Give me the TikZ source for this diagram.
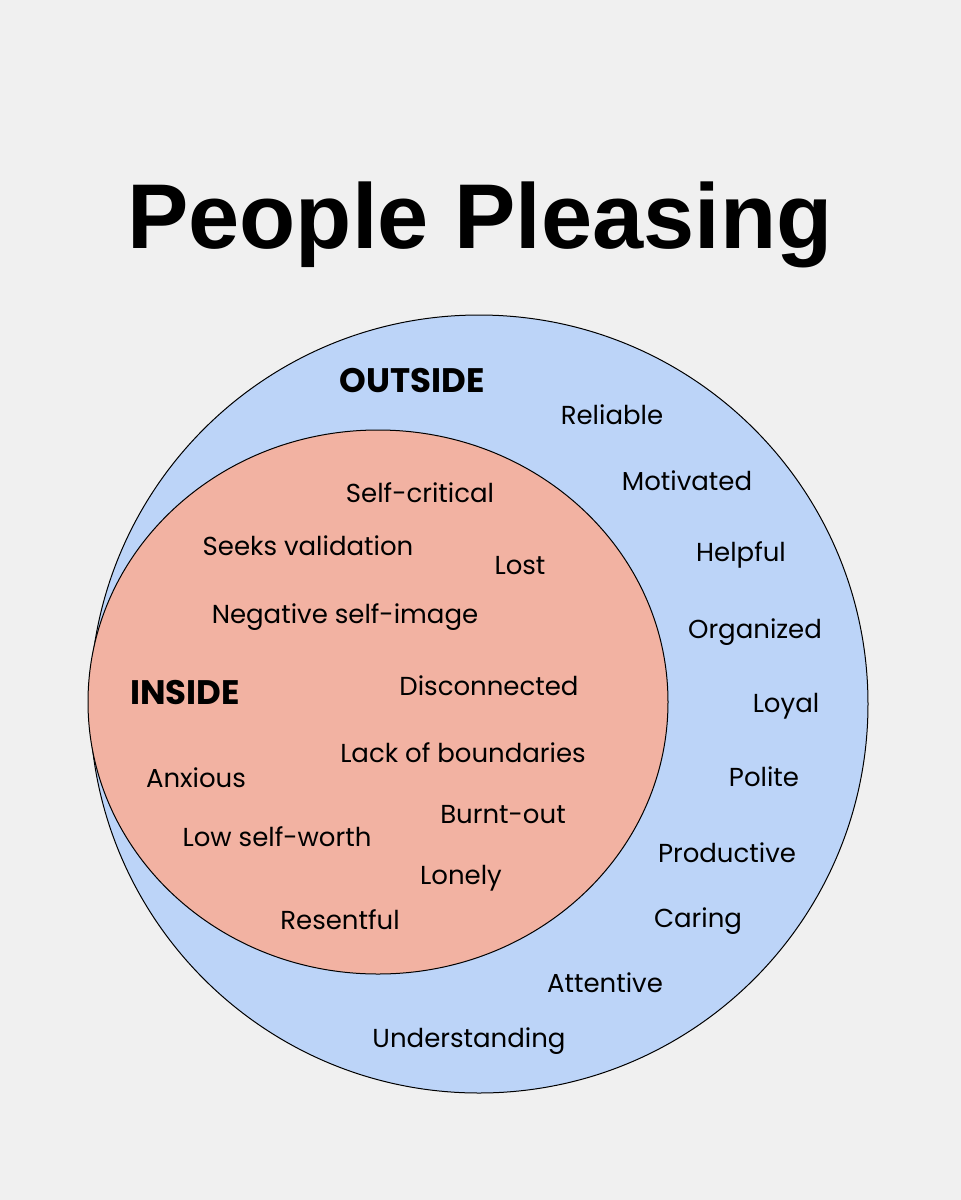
\documentclass[tikz,border=0pt]{standalone}
\usepackage{fontspec}
\setmainfont{Poppins}
\newfontfamily\titlefont{Liberation Sans}
\definecolor{bg}{HTML}{F0F0F0}
\definecolor{outerblue}{HTML}{BCD4F8}
\definecolor{innersalmon}{HTML}{F2B2A2}
\begin{document}
\begin{tikzpicture}[x=1pt,y=-1pt,
  word/.style={font=\fontsize{26}{30}\selectfont,text=black,inner sep=0pt},
  head/.style={font=\fontsize{34}{40}\selectfont\bfseries,text=black,inner sep=0pt}]
\fill[bg] (0,0) rectangle (961,1200);
\useasboundingbox (0,0) rectangle (961,1200);
\node[font=\titlefont\fontsize{92}{100}\selectfont\bfseries,inner sep=0pt] (title) at (480,225) {People Pleasing};
\draw[fill=outerblue,line width=1pt] (479,704) circle (389);
\draw[fill=innersalmon,line width=1pt] (378,702) ellipse (290 and 272);
\node[head] (outside) at (412,381) {OUTSIDE};
\node[word] (o1) at (612,415) {Reliable};
\node[word] (o2) at (687,481) {Motivated};
\node[word] (o3) at (741,555) {Helpful};
\node[word] (o4) at (755,632) {Organized};
\node[word] (o5) at (786,706) {Loyal};
\node[word] (o6) at (764,777) {Polite};
\node[word] (o7) at (727,853) {Productive};
\node[word] (o8) at (698,921) {Caring};
\node[word] (o9) at (605,983) {Attentive};
\node[word] (o10) at (469,1041) {Understanding};
\node[head] (inside) at (185,693) {INSIDE};
\node[word] (i1) at (420,493) {Self-critical};
\node[word] (i2) at (308,546) {Seeks validation};
\node[word] (i3) at (520,566) {Lost};
\node[word] (i4) at (345,617) {Negative self-image};
\node[word] (i5) at (489,686) {Disconnected};
\node[word] (i6) at (463,753) {Lack of boundaries};
\node[word] (i7) at (196,778) {Anxious};
\node[word] (i8) at (503,815) {Burnt-out};
\node[word] (i9) at (277,837) {Low self-worth};
\node[word] (i10) at (461,878) {Lonely};
\node[word] (i11) at (340,920) {Resentful};
\end{tikzpicture}
\end{document}
